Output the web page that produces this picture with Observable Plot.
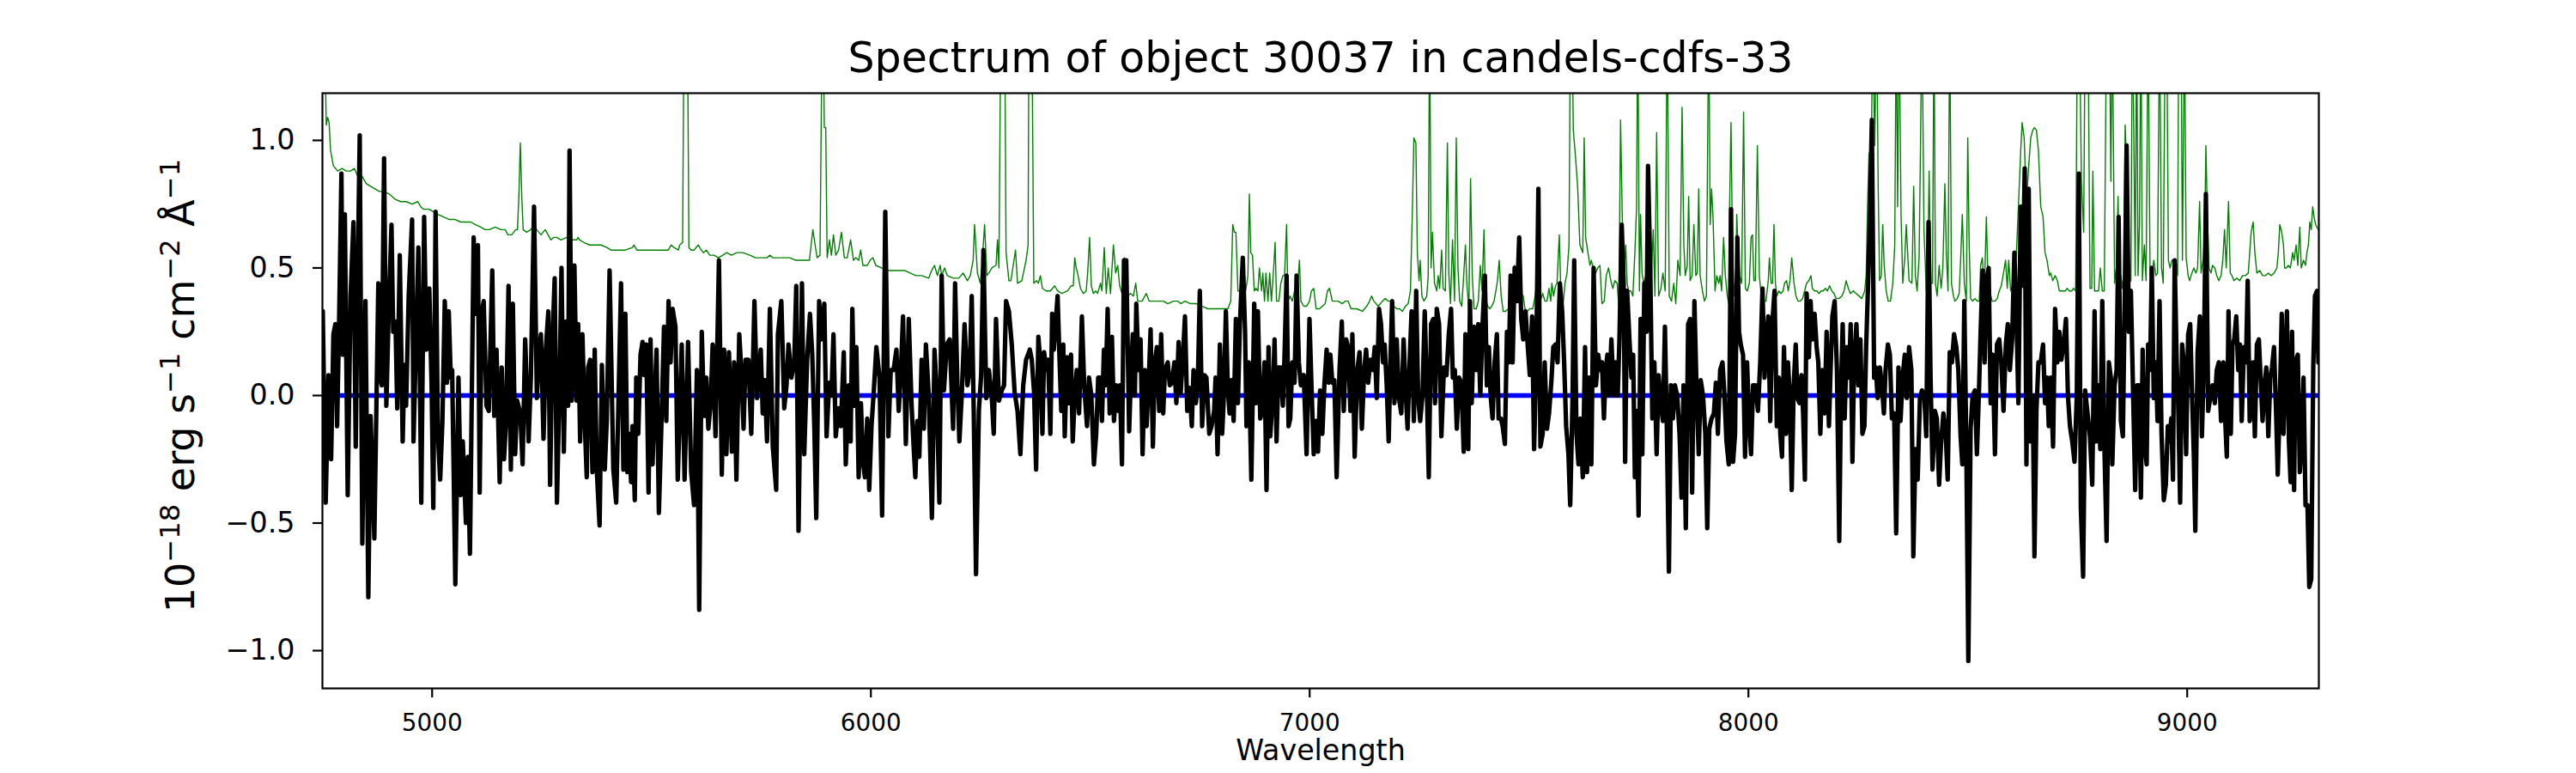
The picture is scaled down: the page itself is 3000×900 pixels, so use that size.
<!DOCTYPE html>
<html>
<head>
<meta charset="utf-8">
<script src="https://cdn.jsdelivr.net/npm/d3@7"></script>
<script src="https://cdn.jsdelivr.net/npm/@observablehq/plot@0.6"></script>
<style>
html, body { margin: 0; padding: 0; background: #fff; }
#chart svg { display: block; }
#chart text { white-space: pre; }
</style>
</head>
<body>
<div id="chart"></div>
<script>
const title = "Spectrum of object 30037 in candels-cdfs-33";
const xLabel = "Wavelength";
const yLabelParts = [["10", false], ["−18", true], [" erg s", false], ["−1", true], [" cm", false], ["−2", true], [" Å", false], ["−1", true]];
const xTicks = [5000, 6000, 7000, 8000, 9000];
const yTicks = [-1, -0.5, 0, 0.5, 1];
const continuumLevel = [0];

// observed flux (black)
const wavelength = [
4750.8,4757.4,4763.9,4769.8,4775.0,4779.5,4783.5,4788.0,4793.3,4796.5,4801.1,4807.6,4814.1,4820.7,4825.9,4830.4,4835.0,4840.9,4848.1,4854.6,4859.8,4868.3,4877.4,4881.3,4885.2,4890.5,4895.7,4900.9,4907.4,4911.3,4916.5,4920.5,4926.3,4932.9,4936.8,4940.7,4946.6,4954.4,4957.6,4964.2,4968.7,4975.3,4981.8,4987.0,4993.5,4998.8,5002.7,5007.9,5013.1,5018.3,5023.5,5028.8,5034.0,5037.9,5042.5,5045.7,5052.9,5060.1,5065.3,5069.9,5074.4,5077.0,5081.6,5086.2,5094.7,5099.9,5104.4,5108.4,5112.9,5117.5,5124.0,5129.2,5137.1,5141.6,5146.8,5154.0,5158.6,5163.8,5168.4,5174.2,5179.5,5184.0,5189.3,5193.8,5201.0,5206.2,5212.1,5219.9,5225.1,5232.3,5238.8,5242.8,5248.0,5253.9,5259.1,5264.9,5268.9,5274.1,5279.3,5284.5,5290.4,5294.9,5300.2,5305.4,5310.0,5313.2,5318.4,5324.3,5329.5,5332.8,5337.4,5342.6,5347.8,5352.4,5355.6,5360.2,5365.4,5370.6,5375.2,5381.7,5386.9,5393.5,5398.0,5404.5,5413.0,5419.5,5424.1,5430.6,5435.9,5440.4,5445.0,5448.9,5453.5,5456.7,5461.9,5465.2,5469.8,5475.0,5479.6,5482.8,5488.1,5493.3,5497.8,5502.4,5507.6,5511.5,5516.8,5522.0,5528.5,5533.7,5538.9,5543.5,5548.1,5554.6,5559.8,
5568.9,5575.4,5583.3,5590.4,5597.0,5603.5,5608.7,5614.6,5619.8,5625.0,5629.6,5634.8,5639.4,5645.9,5653.7,5660.2,5665.5,5670.7,5676.5,5683.1,5688.3,5693.5,5700.0,5704.6,5709.8,5714.4,5720.9,5727.4,5734.6,5740.5,5745.1,5749.0,5753.5,5758.1,5763.3,5769.8,5776.4,5784.2,5788.1,5795.9,5802.5,5807.7,5812.2,5818.8,5825.3,5829.9,5835.1,5842.9,5848.1,5854.7,5861.2,5866.4,5871.0,5875.5,5882.1,5887.3,5893.8,5899.0,5904.9,5910.1,5914.7,5919.9,5926.4,5931.6,5938.2,5942.7,5949.3,5953.8,5957.7,5962.3,5966.9,5972.1,5977.3,5981.9,5986.4,5991.7,5996.2,6001.4,6006.0,6012.5,6019.7,6025.6,6032.8,6039.9,6045.2,6051.7,6058.2,6063.4,6068.6,6073.2,6079.7,6086.3,6092.8,6097.4,6101.3,6105.8,6110.4,6115.6,6120.8,6125.4,6131.9,6139.1,6145.0,6149.5,6156.1,6161.3,6166.5,6173.0,6179.6,6187.4,6191.9,6197.2,6201.7,6207.0,6213.5,6220.0,6225.2,6229.8,6234.4,6239.6,6246.1,6251.3,6256.5,6263.0,6268.9,6275.4,6280.0,6285.2,6291.8,6298.3,6303.5,6308.1,6314.6,6321.1,6327.7,6334.2,6340.7,6347.2,6353.7,6360.3,
6362.2,6366.7,6372.0,6376.5,6381.7,6386.3,6390.9,6394.8,6399.4,6403.9,6409.1,6413.1,6417.0,6420.9,6425.5,6430.0,6433.9,6438.5,6441.8,6447.0,6451.5,6456.1,6460.0,6464.6,6469.2,6474.4,6480.9,6486.1,6492.6,6497.2,6502.4,6508.3,6513.5,6518.1,6522.0,6526.6,6531.1,6535.1,6539.6,6544.2,6549.4,6554.0,6559.2,6563.8,6567.7,6572.2,6576.8,6582.0,6588.6,6593.1,6597.0,6601.6,6604.9,6610.1,6614.6,6619.2,6624.4,6628.3,6632.9,6637.5,6642.7,6647.3,6651.8,6657.1,6661.6,6666.2,6670.1,6676.6,6681.2,6686.4,6691.6,6696.2,6701.4,6706.0,6710.5,6715.8,6721.0,6726.2,6731.4,6735.3,6740.6,6745.1,6749.7,6754.9,6760.1,6764.7,6771.2,6776.4,6782.3,6785.6,6790.1,6795.4,6800.6,6803.8,6809.1,6813.6,6817.5,6822.1,6826.7,6831.9,6836.5,6841.0,6847.6,6852.8,6856.0,6861.3,6867.1,6873.7,6877.6,6882.1,6887.4,6891.9,6897.1,6901.7,6906.3,6910.2,6916.0,6920.0,6924.5,6929.1,6934.3,6938.9,6942.8,6947.4,6951.9,6955.8,6960.4,6965.6,6970.2,6975.4,6980.0,6986.5,6993.0,6999.6,7004.1,7009.3,7014.6,7019.1,7023.7,7028.9,7033.5,7038.7,7043.3,7047.2,7051.7,7056.3,7061.5,7068.1,7073.3,7077.8,7083.1,7087.6,7092.9,7097.4,7102.6,7108.5,7113.7,7119.0,7124.2,7128.7,7133.3,7138.5,7143.7,7148.3,7152.9,7158.1,7162.7,
7167.1,7171.0,7175.6,7180.1,7184.0,7188.0,7193.2,7198.4,7203.6,7208.8,7214.1,7219.3,7223.2,7227.8,7232.3,7237.5,7242.8,7247.3,7251.9,7257.1,7262.3,7266.9,7271.5,7276.7,7281.9,7285.8,7289.7,7295.0,7300.2,7306.0,7311.9,7317.1,7322.3,7326.3,7330.8,7335.4,7340.6,7345.8,7351.1,7355.0,7361.5,7365.4,7369.3,7374.5,7379.8,7384.3,7388.9,7394.1,7399.3,7403.9,7408.5,7412.4,7416.9,7421.5,7426.7,7430.6,7435.9,7439.8,7445.0,7449.6,7454.1,7458.0,7462.6,7467.2,7472.4,7477.6,7482.2,7486.8,7492.0,7497.2,7501.8,7507.0,7511.5,7516.1,7521.3,7525.9,7531.1,7535.7,7540.9,7545.5,7550.7,7555.3,7560.5,7565.0,7570.3,7575.5,7580.0,7584.6,7589.8,7593.8,7599.0,7602.9,7608.1,7612.7,7617.2,7622.5,7627.7,7632.2,7636.8,7642.0,7647.2,7652.5,7657.7,7661.6,7666.2,7670.7,7674.6,7678.6,7682.5,7687.7,7692.9,7697.5,7702.1,7706.0,7711.2,7715.7,7719.0,7723.6,7728.8,7733.4,7737.3,7741.2,7745.1,7749.7,7754.2,7758.2,7762.7,7767.9,7771.2,7776.4,7781.0,7785.6,7790.8,7795.3,7799.9,7805.1,7809.7,7814.3,7818.8,7823.4,7828.0,7832.5,7837.7,7843.0,7847.5,7852.1,7857.3,7862.6,7867.1,7871.7,7876.9,7882.1,7886.7,7891.2,7896.5,7901.7,7906.2,7910.8,7916.0,7921.3,7925.8,7930.4,7935.6,7940.8,7945.4,7950.0,7955.2,7960.4,7965.0,
7969.5,7974.7,7978.6,7982.5,7987.7,7992.3,7996.9,8002.1,8006.0,8010.6,8015.8,8021.7,8026.9,8032.1,8036.7,8041.2,8045.2,8049.7,8054.3,8059.5,8064.7,8069.3,8072.6,8076.5,8081.0,8085.6,8090.2,8094.1,8098.7,8103.2,8107.8,8111.7,8116.3,8120.8,8124.7,8128.7,8132.6,8137.8,8141.7,8145.6,8150.8,8155.4,8159.3,8163.9,8168.5,8173.7,8178.2,8183.5,8186.7,8191.3,8196.5,8201.7,8207.0,8210.9,8214.8,8219.3,8223.9,8229.1,8233.0,8237.0,8240.9,8246.1,8250.7,8255.2,8259.8,8264.4,8268.3,8272.8,8276.8,8281.3,8286.5,8290.5,8294.4,8299.6,8304.2,8308.7,8312.6,8317.9,8322.4,8327.0,8332.2,8336.8,8342.0,8346.6,8351.8,8356.4,8360.9,8366.1,8371.4,8375.9,8380.5,8385.7,8390.9,8395.5,8400.7,8405.3,8410.5,8415.1,8419.6,8424.9,8429.4,8434.6,8439.2,8444.4,8449.6,8454.2,8458.8,8464.0,8468.6,8473.8,8478.4,8483.6,8487.5,8492.0,8496.6,8501.2,8506.4,8511.0,8516.2,8520.7,8526.0,8529.2,8533.8,8538.4,8542.3,8547.5,8552.1,8556.6,8561.9,8566.4,8571.6,8576.2,8581.4,8586.7,8591.2,8595.8,8601.0,8606.2,8610.8,8615.3,8620.6,8625.1,8629.7,8633.6,8638.8,8643.4,8648.0,8651.9,8656.4,8661.0,8666.2,8671.5,8676.0,8680.6,8684.5,8689.1,8694.3,8698.9,8704.1,8708.6,8713.2,8718.4,8723.7,8728.2,8732.8,8738.0,8743.2,8748.4,8753.0,8757.6,8762.8,8767.4,
8778.4,8783.6,8788.9,8793.4,8798.0,8801.9,8806.5,8811.0,8816.3,8821.5,8826.0,8829.3,8834.5,8839.1,8843.7,8848.9,8853.4,8858.0,8861.9,8867.1,8871.7,8876.3,8881.5,8886.1,8890.0,8894.5,8898.5,8902.4,8907.6,8910.9,8915.4,8919.3,8923.9,8928.5,8932.4,8937.0,8941.5,8946.7,8951.3,8955.9,8959.8,8963.7,8967.6,8971.5,8976.1,8979.4,8983.9,8988.5,8992.4,8997.6,9002.2,9006.8,9011.3,9015.2,9018.5,9023.7,9028.9,9033.5,9038.1,9042.6,9047.9,9052.4,9057.6,9062.9,9067.4,9072.0,9077.2,9082.4,9085.7,9090.3,9094.2,9099.4,9103.3,9107.2,9111.8,9116.4,9120.3,9124.2,9129.4,9134.0,9137.9,9142.5,9146.4,9150.3,9154.2,9158.8,9163.3,9167.3,9171.8,9176.4,9180.3,9184.9,9189.4,9193.3,9197.9,9202.5,9206.4,9211.0,9215.5,9219.4,9224.0,9227.3,9231.8,9235.7,9239.0,9243.6,9246.8,9252.1,9256.6,9261.2,9265.1,9269.7,9274.2,9278.2,9282.7,9287.3,9291.2,9295.8,9299.0
];
const flux = [
0.33,-0.42,0.08,-0.25,0.24,0.28,-0.12,0.29,0.87,0.16,0.71,-0.39,0.39,0.68,-0.20,0.47,1.02,-0.58,0.37,-0.79,-0.08,-0.56,0.44,0.08,0.04,0.93,-0.04,0.32,0.67,0.25,0.29,-0.05,0.55,-0.18,0.12,-0.04,0.39,0.69,-0.18,0.27,0.58,-0.42,0.70,0.18,0.42,0.04,-0.44,0.72,-0.15,-0.33,-0.10,0.37,0.05,0.33,0.07,0.10,-0.74,0.07,-0.39,-0.18,-0.38,-0.50,-0.24,-0.62,0.62,0.32,0.59,-0.38,0.32,0.37,-0.04,-0.06,0.49,-0.08,0.18,-0.34,0.11,-0.25,-0.11,0.43,-0.29,0.36,-0.23,-0.02,-0.07,-0.27,0.22,-0.18,0.07,0.74,-0.01,0.15,0.24,-0.17,0.18,0.33,-0.35,0.21,0.46,-0.42,0.04,0.50,-0.22,0.29,-0.04,0.96,-0.02,0.51,-0.02,0.28,-0.18,0.24,-0.10,-0.32,0.11,0.14,-0.30,0.18,-0.29,-0.51,0.12,-0.29,-0.10,0.49,-0.29,-0.42,-0.07,0.44,-0.29,0.32,-0.30,-0.15,-0.34,-0.12,-0.41,0.07,-0.15,0.16,0.21,0.08,0.20,-0.38,0.22,-0.27,0.01,0.18,-0.46,-0.15,0.27,-0.10,0.37,0.13,0.34,0.27,-0.33,
0.20,-0.33,0.21,-0.30,-0.43,0.10,-0.84,0.25,-0.08,0.07,-0.13,-0.03,0.20,-0.16,0.53,-0.31,0.18,-0.23,0.17,-0.22,0.13,-0.33,0.24,0.10,-0.13,0.14,0.14,-0.15,0.37,-0.01,0.10,0.18,-0.07,0.06,-0.18,0.34,-0.20,-0.37,0.24,0.37,-0.05,0.04,0.20,0.07,0.13,0.43,-0.53,0.44,-0.23,0.14,0.32,0.16,-0.12,-0.48,0.37,0.22,0.36,-0.16,0.05,0.00,0.24,-0.16,-0.05,-0.12,0.17,-0.27,0.04,-0.18,0.34,-0.04,0.19,-0.32,-0.03,-0.26,-0.32,-0.09,-0.37,-0.12,0.00,0.19,0.07,-0.47,0.72,-0.16,0.10,0.10,0.18,-0.06,0.10,0.31,-0.19,0.30,-0.04,-0.20,-0.32,-0.10,-0.24,0.14,-0.13,0.20,0.00,-0.48,0.18,0.04,-0.42,0.47,0.02,0.20,0.22,-0.13,0.44,0.04,-0.18,0.00,0.28,0.04,0.10,0.39,-0.06,-0.70,-0.06,0.08,0.57,-0.01,0.10,0.00,-0.15,0.30,-0.02,0.02,0.04,0.37,0.33,0.20,0.01,-0.06,-0.23,0.04,0.14,0.17,
0.18,0.14,0.01,-0.29,0.23,0.13,-0.15,0.17,0.10,0.14,-0.15,0.32,0.18,0.28,0.39,0.14,-0.06,0.20,-0.16,0.15,-0.03,0.16,-0.18,0.00,0.10,-0.07,0.31,0.04,-0.12,0.07,0.00,-0.27,-0.15,0.07,0.07,-0.10,0.18,0.04,0.34,-0.07,0.23,-0.10,0.04,-0.06,0.04,-0.27,0.53,0.53,-0.14,0.10,0.24,0.00,0.36,0.10,0.22,-0.23,0.10,-0.12,0.04,0.26,-0.20,0.13,0.19,-0.06,0.24,-0.07,0.10,0.13,0.04,0.05,0.13,-0.03,0.21,0.01,0.13,0.31,-0.06,0.03,-0.12,0.10,-0.03,0.05,0.41,-0.12,0.08,0.07,-0.15,-0.12,-0.06,0.07,-0.23,0.20,-0.15,-0.03,0.33,0.02,-0.07,0.06,-0.10,0.30,-0.03,0.28,0.54,0.25,-0.12,0.13,-0.33,0.36,-0.03,0.33,-0.09,-0.06,0.13,-0.37,0.19,-0.16,0.00,0.22,-0.18,0.11,0.11,-0.04,0.16,0.47,-0.12,-0.09,0.13,0.05,0.47,0.13,0.04,0.08,-0.23,0.30,0.04,-0.23,-0.10,-0.22,0.02,-0.15,0.04,0.18,0.05,0.16,0.05,0.06,-0.32,0.10,0.29,-0.06,0.22,0.19,-0.06,0.24,-0.24,0.10,0.17,-0.13,0.10,0.18,0.05,0.14,0.10,0.19,-0.01,0.34,0.28,
0.13,0.20,0.04,-0.18,0.13,0.37,-0.03,0.22,-0.01,-0.07,0.22,0.00,-0.13,0.13,0.33,-0.10,0.41,-0.01,-0.10,0.00,0.33,0.04,-0.32,0.28,0.30,-0.03,0.34,0.28,-0.16,0.11,0.08,0.24,0.34,0.07,0.10,-0.13,0.07,0.05,-0.22,0.24,-0.21,0.37,-0.03,0.27,0.10,0.28,0.00,0.28,0.47,0.04,0.19,0.00,-0.09,0.13,0.24,-0.09,-0.09,-0.12,-0.19,0.25,0.13,0.47,0.13,0.50,0.37,0.62,0.30,0.22,0.33,0.19,0.08,0.31,-0.21,0.11,0.81,-0.20,-0.15,0.13,-0.13,-0.07,0.05,0.19,0.20,0.13,0.44,0.33,0.13,-0.12,-0.23,-0.43,-0.03,0.53,-0.15,-0.27,-0.09,-0.32,0.19,-0.30,0.07,-0.27,0.50,0.04,0.16,0.10,0.13,-0.09,0.10,0.16,0.00,0.22,0.00,0.13,0.00,0.22,0.67,0.44,-0.26,0.41,0.22,0.07,0.16,-0.32,-0.06,-0.47,0.30,-0.23,0.44,0.25,0.90,0.48,-0.09,0.13,-0.23,0.08,-0.03,-0.10,0.27,-0.15,-0.69,0.04,-0.09,0.04,0.00,-0.15,-0.40,0.04,-0.52,0.28,0.30,-0.38,0.37,0.00,-0.23,0.06,0.00,-0.15,-0.52,-0.13,-0.09,-0.07,0.05,-0.15,0.10,0.13,0.00,-0.18,-0.27,0.73,-0.26,
-0.15,0.62,0.25,0.20,0.16,-0.24,0.13,-0.12,-0.23,0.04,0.04,-0.06,0.13,0.42,0.07,0.22,0.31,-0.10,0.28,0.41,-0.12,0.07,-0.15,-0.24,0.19,-0.15,0.13,0.00,-0.37,0.04,0.20,-0.01,-0.03,0.08,-0.07,-0.33,0.40,0.15,0.37,0.22,0.32,0.19,0.13,-0.15,0.10,-0.07,0.25,-0.12,0.07,0.31,0.37,0.10,-0.57,0.01,0.28,-0.09,0.19,0.07,0.28,-0.26,0.13,0.28,0.04,0.22,-0.15,-0.12,0.19,0.44,0.70,1.08,0.07,0.11,-0.01,0.11,0.04,-0.07,0.10,0.20,0.16,-0.09,-0.07,-0.54,0.11,-0.10,0.08,0.16,-0.01,0.19,0.10,-0.63,-0.21,-0.33,-0.01,0.02,0.00,-0.16,0.68,0.07,-0.29,-0.06,-0.09,-0.35,-0.18,-0.07,-0.15,-0.33,0.17,0.13,0.24,0.19,0.10,-0.16,-0.27,0.37,-0.20,-1.04,-0.13,0.00,0.02,-0.23,0.05,0.25,0.49,0.13,0.45,0.50,-0.03,0.16,-0.23,0.20,0.22,0.13,-0.06,0.20,0.28,0.10,0.22,0.56,0.31,-0.03,0.74,0.43,0.89,-0.27,0.81,-0.18,0.00,-0.63,-0.06,0.13,0.13,0.20,-0.03,0.07,-0.12,0.07,-0.20,0.34,0.13,0.25,0.14,0.20,0.30,0.00,-0.12,-0.18,-0.26,0.00,0.87,-0.44,-0.71,0.02,
-0.16,-0.35,0.33,-0.18,0.04,-0.21,0.37,-0.18,-0.57,0.13,0.07,-0.27,0.04,0.10,0.70,-0.10,-0.16,0.42,0.98,0.25,0.41,0.04,-0.37,0.04,0.04,-0.40,0.18,-0.18,-0.27,0.20,0.10,0.50,-0.01,0.13,-0.10,0.37,-0.15,-0.41,-0.35,-0.12,-0.18,-0.09,-0.33,0.53,0.13,-0.03,-0.42,0.20,0.13,-0.23,0.24,0.28,-0.01,-0.24,-0.53,0.17,0.31,-0.16,0.13,0.79,-0.06,-0.01,0.04,-0.03,0.10,0.13,-0.10,0.13,-0.06,-0.24,0.33,-0.15,0.20,0.22,0.31,0.10,0.20,-0.10,0.19,0.13,0.45,-0.10,-0.03,0.13,-0.16,0.20,0.22,0.07,-0.10,0.04,0.11,-0.16,0.07,0.11,0.19,-0.06,-0.31,-0.03,0.32,-0.15,0.13,0.33,-0.18,-0.34,0.25,-0.37,0.13,0.16,-0.30,-0.18,0.07,-0.43,-0.43,-0.75,-0.72,0.11,0.39,0.41,0.13
];

// noise / sky spectrum (green)
const noiseWavelength = [
4751.0,4755.4,4758.7,4761.9,4765.2,4768.5,4775.0,4784.8,4794.6,4804.3,4814.1,4822.6,4830.4,4840.2,4850.0,4859.8,4869.6,4879.4,4889.2,4902.2,4915.2,4928.3,4941.3,4954.4,4967.4,4974.0,4980.5,4993.5,5003.3,5013.1,5026.2,5039.2,5052.2,5065.3,5078.3,5088.1,5097.9,5110.9,5120.8,5130.5,5143.6,5156.6,5166.4,5172.9,5181.4,5186.0,5190.6,5194.5,5197.7,5201.0,5204.3,5207.5,5215.3,5225.1,5231.7,5238.2,5248.0,5257.8,5264.3,5270.8,5277.3,5283.9,5293.6,5306.7,5319.7,5329.5,5332.8,5336.0,5345.8,5358.9,5371.9,5385.0,5398.0,5407.8,5424.1,5440.4,5456.7,5460.0,5466.5,5482.8,5502.4,5522.0,5538.3,5544.8,5551.3,5561.1,
5564.3,5570.9,5574.1,5577.4,5581.9,5585.2,5590.4,5597.0,5601.5,5606.7,5613.3,5618.5,5625.0,5632.8,5642.6,5652.4,5662.2,5672.0,5681.8,5694.8,5707.9,5724.2,5737.2,5750.3,5763.3,5769.8,5776.4,5789.4,5802.5,5815.5,5828.6,5841.6,5859.9,5863.1,5867.7,5872.9,5877.5,5884.0,5888.6,5891.8,5893.8,5897.1,5900.3,5905.5,5910.1,5914.7,5919.9,5926.4,5932.9,5939.5,5946.0,5953.8,5960.3,5965.6,5972.1,5976.7,5981.9,5991.7,5998.2,6004.7,6011.2,6024.3,6037.3,6050.4,6063.4,6076.5,6089.5,6102.6,6115.6,6131.9,6138.4,6145.0,6151.5,6158.0,6161.3,6167.8,6174.3,6187.4,6200.4,6210.2,6220.0,6226.5,6233.0,6236.3,6242.8,6249.4,6253.9,6259.1,6264.4,6268.9,6275.4,6285.2,6288.5,6291.8,6296.3,6301.5,6304.8,6308.1,6314.6,6319.1,6324.4,6329.6,6334.2,6343.9,6353.7,6358.3,
6360.2,6366.7,6371.3,6377.8,6381.7,6386.3,6390.9,6399.4,6409.1,6418.9,6425.5,6435.2,6448.3,6456.1,6461.3,6464.6,6467.9,6471.1,6477.6,6484.2,6490.7,6494.0,6498.5,6502.4,6507.0,6512.2,6516.8,6523.3,6526.6,6531.8,6536.4,6540.9,6546.1,6552.7,6557.9,6562.5,6567.0,6572.2,6577.5,6582.0,6585.3,6591.8,6598.3,6603.6,6608.1,6617.9,6627.7,6634.2,6644.0,6657.1,6666.8,6676.6,6689.7,6699.5,6706.0,6715.8,6728.8,6741.9,6754.9,6768.0,6781.0,6794.1,6813.6,6820.2,6824.7,6828.6,6831.9,6836.5,6843.0,6849.5,6854.1,6859.3,6862.6,6865.8,6869.7,6873.7,6877.6,6882.1,6885.4,6890.6,6893.2,6897.1,6900.4,6905.0,6908.9,6912.8,6918.0,6921.3,6924.5,6929.8,6934.3,6938.9,6942.8,6947.4,6950.6,6955.2,6960.4,6966.9,6971.5,6976.7,6980.0,6986.5,6993.0,6999.6,7004.1,7009.3,7014.6,7022.4,7028.9,7035.4,7040.6,7045.2,7051.7,7058.3,7064.8,7074.6,7081.1,7087.6,7094.2,7107.2,7120.3,7130.0,7136.6,7141.1,7146.3,7156.1,7166.0,
7172.3,7178.8,7185.3,7191.9,7198.4,7204.9,7211.4,7218.0,7224.5,7229.7,7234.3,7237.5,7242.1,7245.4,7249.3,7251.9,7255.8,7260.4,7266.9,7270.2,7273.4,7276.7,7279.9,7284.5,7289.7,7293.0,7296.3,7300.8,7304.1,7309.3,7313.9,7317.1,7321.0,7325.6,7330.2,7334.1,7338.0,7341.9,7346.5,7350.4,7355.0,7358.2,7362.8,7366.7,7370.6,7374.5,7379.8,7384.3,7388.9,7392.8,7397.4,7400.6,7405.9,7410.4,7415.0,7420.2,7425.4,7428.0,7432.0,7436.5,7441.1,7446.3,7452.8,7458.0,7462.6,7467.2,7472.4,7477.6,7482.2,7486.8,7490.7,7495.2,7501.8,7508.3,7512.9,7516.8,7521.3,7525.9,7531.1,7536.3,7540.9,7545.5,7549.4,7552.0,7555.9,7560.5,7563.7,7569.0,7573.5,7576.8,7582.0,7586.6,7591.1,7594.4,7597.7,7600.9,7606.1,7610.7,7615.9,7622.5,7625.7,7629.0,7634.2,7638.8,7642.0,7647.2,7651.8,7656.4,7661.6,7666.2,7671.4,7675.9,7681.2,7686.4,7691.0,7695.5,7700.7,7704.7,7708.6,7712.5,7716.4,7720.3,7723.6,7726.8,7732.1,7736.6,7741.2,7745.1,7747.7,7751.6,7754.2,7757.5,7761.4,7766.0,7770.6,7774.5,7779.0,7783.0,7786.9,7790.8,7795.3,7800.6,7805.1,7810.3,7814.9,7819.5,7824.7,7829.9,7834.5,7839.1,7844.3,7848.8,7852.8,7856.0,7860.6,7863.8,7867.1,7871.7,7875.6,7880.1,7883.4,7886.7,7889.9,7895.2,7899.7,7904.3,7909.5,7912.8,7916.0,7919.3,7923.9,7927.8,7932.3,7935.6,7938.9,7943.4,7947.3,7951.9,7955.2,
7957.1,7960.3,7963.6,7966.9,7971.4,7973.4,7976.0,7979.9,7984.5,7989.0,7993.0,7997.5,8002.1,8006.0,8009.3,8012.5,8015.8,8020.4,8024.9,8028.2,8033.4,8039.9,8045.2,8047.8,8051.7,8054.9,8058.2,8061.5,8064.7,8069.3,8073.9,8079.1,8082.3,8086.9,8090.8,8094.7,8098.7,8103.9,8108.4,8113.0,8118.2,8123.4,8128.0,8132.6,8137.8,8142.4,8145.6,8150.8,8156.1,8160.6,8165.8,8170.4,8175.6,8180.2,8184.8,8190.0,8195.2,8199.8,8206.3,8212.8,8218.0,8222.6,8227.8,8232.4,8238.9,8245.4,8252.0,8258.5,8265.0,8268.3,8271.5,8274.8,8279.4,8283.3,8287.8,8292.4,8295.7,8298.9,8302.9,8306.1,8309.4,8314.0,8318.5,8323.7,8329.0,8333.5,8336.8,8340.0,8343.3,8347.9,8351.8,8356.4,8359.6,8362.9,8366.1,8372.7,8376.6,8380.5,8384.4,8389.0,8392.2,8395.5,8400.1,8405.3,8409.2,8411.8,8415.7,8419.6,8422.9,8426.2,8430.1,8434.6,8439.2,8443.1,8447.7,8451.0,8454.9,8458.8,8462.7,8467.3,8470.5,8475.7,8480.3,8483.6,8487.5,8492.0,8496.6,8499.9,8503.1,8506.4,8511.0,8516.2,8521.4,8526.0,8529.2,8533.1,8537.7,8542.3,8545.5,8550.1,8555.3,8561.9,8567.1,8571.6,8576.2,8581.4,8586.0,8589.9,8593.2,8597.7,8604.3,8610.8,8615.3,8620.6,8623.8,8628.4,8633.6,8638.8,8643.4,8648.0,8651.9,8656.4,8661.0,8666.2,8671.5,8676.0,8680.6,8685.8,8689.1,8693.6,8698.9,8704.1,8708.6,8713.2,8718.4,8722.4,8726.3,8731.5,8736.7,8741.3,8745.8,8749.8,8754.3,8758.9,8764.1,8767.4,
8773.9,8778.4,8782.3,8785.0,8788.9,8793.4,8798.0,8801.9,8806.5,8811.0,8816.3,8819.5,8822.8,8826.0,8829.3,8834.5,8839.1,8842.4,8845.6,8848.9,8852.1,8855.4,8858.7,8861.9,8867.1,8871.7,8875.0,8878.2,8881.5,8884.8,8888.0,8891.3,8894.5,8897.8,8902.4,8906.3,8910.9,8915.4,8919.3,8923.9,8928.5,8932.4,8937.0,8941.5,8945.4,8950.0,8953.3,8957.2,8961.1,8965.0,8969.6,8974.1,8978.1,8980.7,8985.9,8989.1,8993.7,8997.6,9002.2,9005.5,9010.7,9015.2,9019.8,9023.7,9028.3,9031.6,9036.8,9040.0,9042.6,9045.9,9049.8,9054.4,9057.6,9062.9,9067.4,9072.0,9077.2,9081.1,9085.1,9089.0,9094.2,9098.1,9102.0,9106.6,9113.1,9119.6,9126.2,9132.7,9139.2,9142.5,9145.7,9150.3,9154.2,9158.8,9165.3,9171.8,9178.3,9184.9,9191.4,9197.9,9204.4,9207.7,9211.0,9215.5,9219.4,9222.1,9226.0,9230.5,9235.1,9240.3,9243.6,9248.2,9252.1,9256.6,9259.9,9265.1,9269.7,9272.9,9276.2,9279.5,9282.7,9286.0,9289.2,9292.5,9295.8,9299.0
];
const noise = [
1.50,1.40,1.06,1.09,1.07,0.96,0.90,0.88,0.89,0.88,0.88,0.89,0.86,0.86,0.83,0.82,0.81,0.80,0.80,0.79,0.77,0.76,0.76,0.75,0.76,0.74,0.73,0.73,0.72,0.71,0.70,0.69,0.69,0.68,0.68,0.68,0.67,0.66,0.65,0.65,0.66,0.65,0.65,0.63,0.63,0.64,0.65,0.65,0.78,0.99,0.78,0.65,0.64,0.65,0.67,0.65,0.63,0.65,0.63,0.61,0.62,0.62,0.61,0.62,0.61,0.61,0.62,0.61,0.60,0.59,0.59,0.59,0.58,0.57,0.57,0.57,0.58,0.59,0.57,0.57,0.57,0.57,0.57,0.59,0.58,0.57,
0.59,0.60,1.50,1.60,1.50,0.58,0.57,0.57,0.58,0.59,0.57,0.56,0.57,0.55,0.55,0.54,0.55,0.56,0.55,0.56,0.56,0.55,0.54,0.54,0.54,0.55,0.54,0.54,0.54,0.54,0.53,0.53,0.53,0.58,0.65,0.59,0.54,0.55,1.40,1.40,1.05,1.05,0.54,0.61,0.55,0.63,0.55,0.57,0.64,0.54,0.54,0.61,0.53,0.54,0.53,0.57,0.51,0.51,0.53,0.54,0.51,0.50,0.49,0.49,0.49,0.49,0.48,0.47,0.47,0.46,0.49,0.51,0.47,0.51,0.47,0.50,0.47,0.46,0.46,0.48,0.45,0.47,0.53,0.67,0.48,0.44,0.53,0.67,0.47,0.48,0.50,0.51,0.61,0.50,1.50,1.60,1.50,0.56,0.45,0.45,0.51,0.57,0.44,0.45,0.53,0.59,
1.50,1.50,0.44,0.45,0.44,0.47,0.42,0.41,0.41,0.43,0.41,0.40,0.41,0.43,0.43,0.54,0.50,0.48,0.42,0.40,0.41,0.48,0.62,0.43,0.40,0.41,0.40,0.44,0.41,0.58,0.40,0.50,0.40,0.59,0.48,0.51,0.43,0.40,0.54,0.42,0.39,0.40,0.39,0.44,0.37,0.37,0.40,0.37,0.37,0.37,0.37,0.36,0.37,0.37,0.36,0.37,0.36,0.36,0.35,0.34,0.34,0.34,0.34,0.37,0.67,0.64,0.64,0.41,0.41,0.41,0.41,0.47,0.79,0.56,0.55,0.41,0.42,0.41,0.50,0.41,0.48,0.37,0.48,0.37,0.48,0.37,0.50,0.60,0.37,0.37,0.44,0.47,0.47,0.67,0.37,0.39,0.37,0.42,0.40,0.53,0.37,0.35,0.35,0.37,0.41,0.42,0.34,0.34,0.35,0.36,0.41,0.42,0.37,0.37,0.37,0.36,0.37,0.37,0.34,0.34,0.33,0.35,0.37,0.39,0.37,0.35,0.37,
0.38,0.37,0.37,0.35,0.34,0.34,0.33,0.35,0.36,0.41,0.74,1.01,0.99,0.56,0.45,0.53,0.39,0.37,0.39,0.47,1.50,0.50,0.64,0.44,0.41,0.47,0.42,0.57,0.42,0.41,0.99,0.48,0.36,0.61,0.37,1.01,0.50,0.37,0.35,0.45,0.59,0.44,0.34,0.85,0.47,0.34,0.34,0.37,0.51,0.41,0.65,0.38,0.35,0.34,0.35,0.37,0.42,0.45,0.53,0.39,0.33,0.33,0.34,0.37,0.41,0.51,0.42,0.37,0.40,0.39,0.34,0.33,0.34,0.34,0.38,0.43,0.47,0.37,0.40,0.37,0.37,0.42,0.37,0.44,0.39,0.43,0.44,0.63,0.34,0.34,0.44,0.48,0.59,1.50,1.50,1.04,0.93,0.82,0.59,0.56,1.01,0.62,0.56,0.51,0.53,0.49,0.48,0.50,0.51,0.36,0.37,0.47,0.50,0.45,0.42,0.45,0.44,0.35,1.08,0.70,0.48,0.59,0.44,0.41,0.41,0.39,0.56,0.74,1.50,0.41,0.71,0.48,0.44,0.47,0.62,0.44,0.47,0.65,0.39,1.03,0.39,0.42,0.48,0.41,1.50,0.39,0.37,0.44,0.36,0.53,0.47,1.13,0.59,0.47,0.51,0.78,0.45,0.47,0.67,0.47,0.48,0.81,0.47,0.41,0.37,0.39,1.50,0.67,0.81,0.70,0.41,0.47,0.44,0.47,0.41,0.62,0.47,0.39,0.36,
0.74,1.07,0.59,0.39,0.48,0.71,0.59,0.47,0.44,1.11,0.42,0.41,0.44,0.62,0.63,0.45,0.45,0.98,0.47,0.41,0.37,0.37,0.45,0.54,0.44,0.44,0.67,0.44,0.39,0.41,0.40,0.41,0.44,0.45,0.41,0.45,0.54,0.44,0.39,0.37,0.37,0.38,0.41,0.44,0.45,0.47,0.42,0.41,0.41,0.40,0.41,0.41,0.42,0.41,0.43,0.41,0.40,0.38,0.38,0.39,0.41,0.45,0.42,0.40,0.41,0.40,0.39,0.38,0.41,0.47,0.74,0.95,0.82,1.50,0.98,1.50,0.82,0.45,0.47,0.67,0.51,0.41,0.37,0.37,0.44,0.59,1.50,0.74,1.50,0.70,0.44,0.54,0.67,0.56,0.45,0.44,0.82,0.47,0.41,0.54,0.98,1.50,0.65,0.41,0.56,0.88,0.44,0.44,1.50,0.44,0.39,0.51,0.42,0.50,0.83,0.56,0.41,1.50,0.44,0.39,0.37,0.38,0.40,0.53,0.71,0.44,0.37,1.01,0.59,0.38,0.37,0.38,0.37,0.37,0.51,0.54,0.41,0.70,0.48,0.41,0.37,0.37,0.38,0.41,0.43,0.48,0.53,0.42,0.53,0.41,0.44,0.56,0.74,0.96,1.07,1.01,0.76,0.90,1.01,1.04,1.05,1.04,0.96,0.74,0.70,0.56,0.53,0.47,0.48,0.45,0.47,0.45,0.41,0.41,0.41,0.41,0.42,0.41,0.41,0.42,0.41,1.50,1.50,0.84,0.64,1.50,
1.50,0.42,0.42,0.88,0.41,0.41,0.41,0.50,0.41,0.41,1.50,1.50,1.50,0.84,1.50,0.44,0.51,0.78,0.44,0.47,0.42,0.48,1.06,0.90,0.44,0.45,1.50,1.05,0.47,1.50,0.47,0.67,1.50,0.45,0.59,0.45,1.50,0.47,0.47,0.53,0.47,0.48,1.50,0.50,0.44,1.50,1.50,0.53,0.50,0.53,0.53,0.53,0.47,1.50,1.50,0.53,1.50,0.54,0.47,0.45,0.48,0.50,0.48,0.50,0.76,0.48,0.54,0.65,0.98,0.71,0.50,0.48,0.51,0.50,0.47,0.45,0.47,0.53,0.65,0.50,0.76,0.48,0.47,0.45,0.46,0.45,0.47,0.47,0.48,0.56,0.64,0.68,0.56,0.48,0.49,0.47,0.47,0.48,0.47,0.48,0.50,0.56,0.67,0.64,0.59,0.50,0.50,0.51,0.50,0.56,0.53,0.59,0.51,0.66,0.50,0.53,0.51,0.56,0.59,0.68,0.65,0.74,0.70,0.67,0.66,0.65
];

const nSpec = Math.min(wavelength.length, flux.length);
const nSky = Math.min(noiseWavelength.length, noise.length);
const spectrum = d3.range(nSpec).map(i => ({wave: wavelength[i], value: flux[i]}));
const sky = d3.range(nSky).map(i => ({wave: noiseWavelength[i], value: noise[i]}));

const FONT = "'DejaVu Sans', sans-serif";
const yLabelText = yLabelParts.map(p => p[0]).join("");
const Y_LABEL_SIZE = 46;

const chart = Plot.plot({
  width: 3000,
  height: 900,
  marginLeft: 375,
  marginRight: 300,
  marginTop: 108,
  marginBottom: 99,
  style: {fontFamily: FONT, background: "#ffffff", color: "#000000", overflow: "visible"},
  x: {domain: [4750, 9300]},
  y: {domain: [-1.148, 1.185]},
  marks: [
    Plot.ruleY(continuumLevel, {stroke: "#0000ff", strokeWidth: 5.4}),
    Plot.line(sky, {x: "wave", y: "value", stroke: "#008000", strokeWidth: 1.4, clip: true}),
    Plot.line(spectrum, {x: "wave", y: "value", stroke: "#000000", strokeWidth: 5.2, clip: true}),
    Plot.frame({stroke: "#000000", strokeWidth: 2.2}),
    Plot.axisX({ticks: xTicks, tickSize: 11, tickPadding: 19, fontSize: 27.8, strokeWidth: 2.2, label: null, tickFormat: d => String(d)}),
    Plot.axisY({ticks: yTicks, tickSize: 11, tickPadding: 21, fontSize: 33.3, strokeWidth: 2.2, label: null, tickFormat: d3.format(".1f")}),
    Plot.text([xLabel], {text: d => d, frameAnchor: "bottom", dy: 83, lineAnchor: "bottom", textAnchor: "middle", fontSize: 33.3, fill: "#000000"}),
    Plot.text([title], {text: d => d, frameAnchor: "top", dy: -25, lineAnchor: "bottom", textAnchor: "middle", fontSize: 49, fill: "#000000"}),
    Plot.text([yLabelText], {text: d => d, frameAnchor: "left", dx: -150, dy: -6, rotate: -90, lineAnchor: "bottom", textAnchor: "middle", fontSize: Y_LABEL_SIZE, fill: "#000000"})
  ]
});

// render superscripts of the y label as raised, smaller tspans
d3.select(chart).selectAll("text").filter(function () { return this.textContent === yLabelText; }).each(function () {
  const t = d3.select(this);
  t.text(null);
  let raised = false;
  const shift = Y_LABEL_SIZE * 0.36;
  for (const [s, sup] of yLabelParts) {
    const ts = t.append("tspan").text(s);
    if (sup) {
      ts.attr("font-size", Y_LABEL_SIZE * 0.7);
      if (!raised) ts.attr("dy", -shift);
      raised = true;
    } else {
      if (raised) ts.attr("dy", shift);
      raised = false;
    }
  }
});

document.getElementById("chart").appendChild(chart);
</script>
</body>
</html>
